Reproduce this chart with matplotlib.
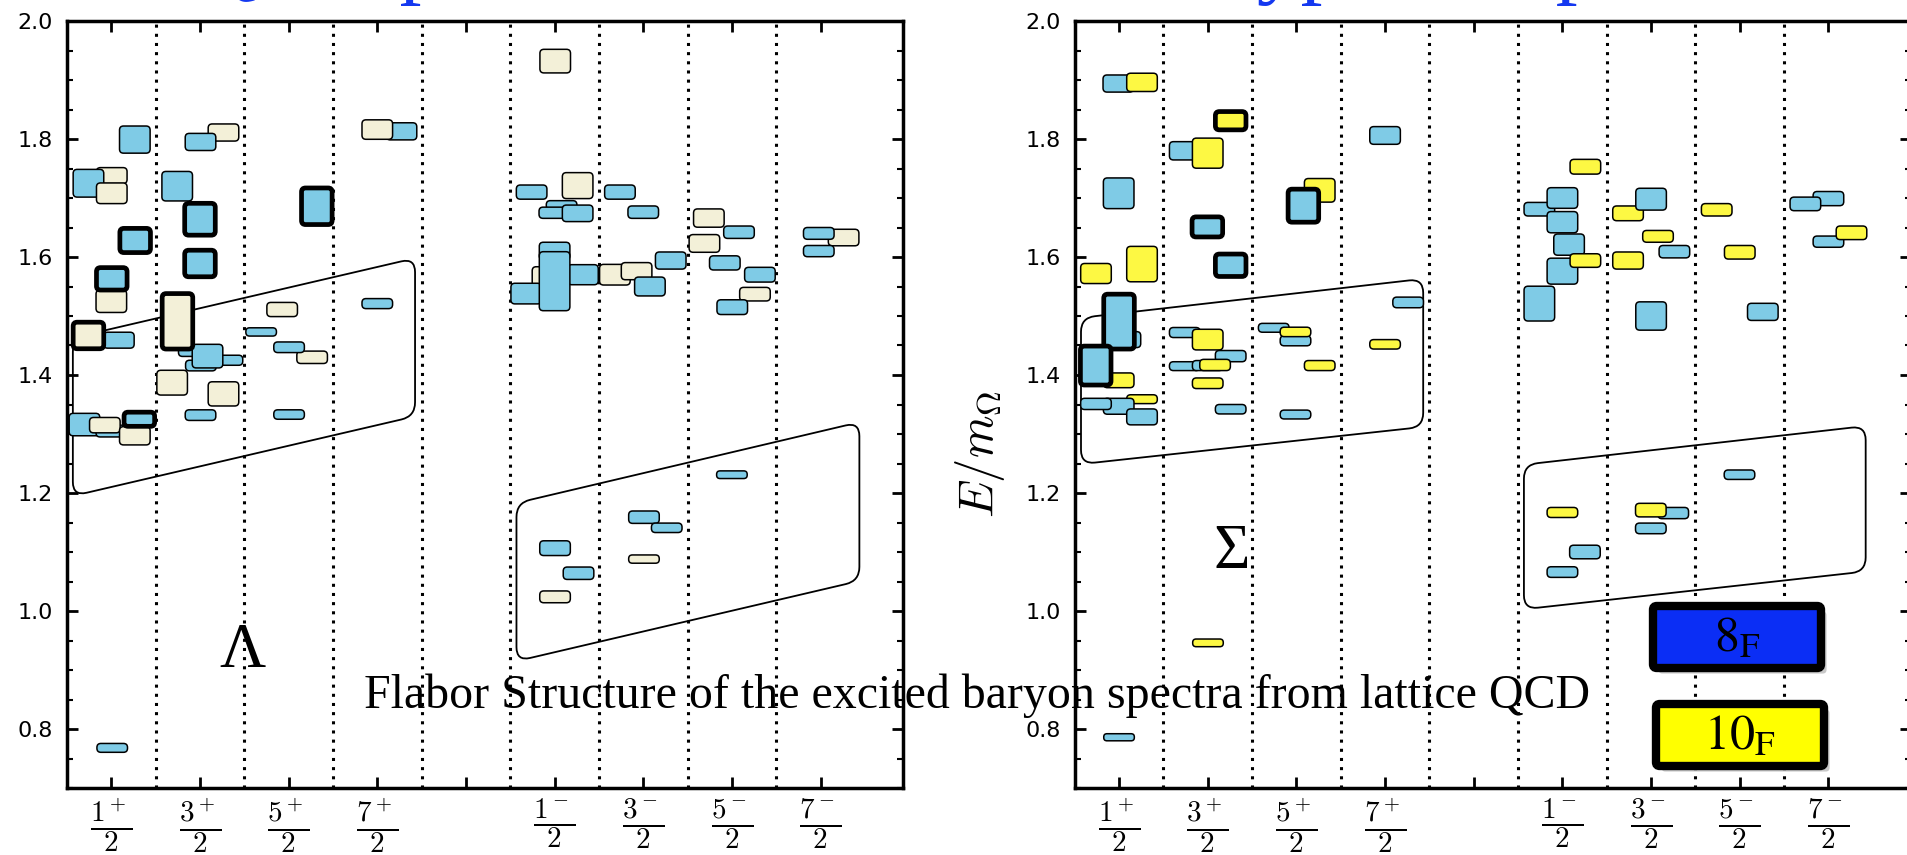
"""
Flavour structure of the excited Lambda / Sigma baryon spectra (lattice QCD).
Two level-diagram panels with rounded boxes per state.
"""

import numpy as np
import matplotlib
matplotlib.use("Agg")
import matplotlib.pyplot as plt
import matplotlib.patheffects as pe
from matplotlib.patches import FancyBboxPatch, PathPatch
from matplotlib.path import Path
from matplotlib.ticker import MultipleLocator

W, H = 1907, 855

plt.rcParams["font.family"] = ["DejaVu Sans"]
plt.rcParams["mathtext.fontset"] = "cm"

# ─── data ────────────────────────────────────────────────────────────────────
spin_ticks = [1, 2, 3, 4, 5, 6, 7, 8, 9]
spin_num = ["1^+", "3^+", "5^+", "7^+", None, "1^-", "3^-", "5^-", "7^-"]
sep_x = [1.5, 2.5, 3.5, 4.5, 5.5, 6.5, 7.5, 8.5]
y_ticks = [0.8, 1.0, 1.2, 1.4, 1.6, 1.8, 2.0]

# Lambda panel: centre x, centre E/m_Omega, box height, colour, bold outline
lam_x = [1.005, 0.742, 1.005, 1.265, 1.269, 1.0, 1.005, 1.085, 0.742, 0.697,
         1.0, 0.927, 1.265, 1.316, 1.01,
         2.265, 2.006, 1.743, 2.0, 2.0, 1.93, 2.31, 2.01, 2.085, 1.746,
         1.686, 2.265, 2.006,
         2.69, 2.927, 3.265, 3.005, 3.005, 3.318,
         4.273, 4.0, 4.0,
         6.007, 5.741, 6.26, 6.079, 5.997, 6.26, 5.92, 5.68, 6.32, 6.0, 6.0,
         6.005, 6.27, 6.005,
         6.737, 7.0, 6.68, 6.925, 7.075, 7.31, 7.008, 7.265, 7.008,
         7.74, 8.08, 7.69, 7.92, 8.316, 8.26, 8.004, 8.0,
         9.26, 8.98, 8.98]
lam_y = [1.738, 1.725, 1.708, 1.799, 1.628, 1.525, 1.563, 1.459, 1.467, 1.316,
         1.305, 1.315, 1.297, 1.325, 0.768,
         1.811, 1.795, 1.72, 1.664, 1.589, 1.44, 1.425, 1.416, 1.432, 1.491,
         1.387, 1.368, 1.332,
         1.473, 1.511, 1.43, 1.447, 1.333, 1.686,
         1.813, 1.816, 1.521,
         1.932, 1.710, 1.721, 1.688, 1.675, 1.674, 1.561, 1.538, 1.57, 1.61, 1.559,
         1.1065, 1.064, 1.024,
         1.71, 1.676, 1.57, 1.576, 1.55, 1.594, 1.159, 1.141, 1.088,
         1.666, 1.642, 1.623, 1.59, 1.57, 1.537, 1.515, 1.231,
         1.633, 1.64, 1.61]
lam_h = [0.027, 0.047, 0.035, 0.046, 0.041, 0.038, 0.038, 0.027, 0.045, 0.038,
         0.02, 0.026, 0.031, 0.024, 0.015,
         0.029, 0.029, 0.05, 0.054, 0.045, 0.017, 0.017, 0.018, 0.04, 0.094,
         0.042, 0.041, 0.018,
         0.014, 0.024, 0.021, 0.018, 0.016, 0.062,
         0.029, 0.033, 0.017,
         0.04, 0.024, 0.044, 0.015, 0.019, 0.028, 0.045, 0.035, 0.034, 0.03, 0.10,
         0.025, 0.021, 0.02,
         0.024, 0.021, 0.035, 0.029, 0.032, 0.029, 0.021, 0.016, 0.014,
         0.031, 0.021, 0.03, 0.024, 0.025, 0.023, 0.025, 0.013,
         0.028, 0.02, 0.019]
lam_c = list("wbwbbwbbwbbwwbb" "wbbbbbbbbwwwb" "bwwbbb" "bwb"
             "wbwbbbwbbbb" "bbw" "bbwwbbbbw" "wbwbbwbb" "wbb")
lam_bold = [0, 0, 0, 0, 1, 0, 1, 0, 1, 0, 0, 0, 0, 1, 0,
            0, 0, 0, 1, 1, 0, 0, 0, 0, 1, 0, 0, 0,
            0, 0, 0, 0, 0, 1,
            0, 0, 0,
            0, 0, 0, 0, 0, 0, 0, 0, 0, 0, 0,
            0, 0, 0,
            0, 0, 0, 0, 0, 0, 0, 0, 0,
            0, 0, 0, 0, 0, 0, 0, 0,
            0, 0, 0]

# Sigma panel
sig_x = [0.992, 1.259, 0.996, 0.74, 1.259, 1.072, 1.0, 0.996, 0.737, 1.259,
         0.996, 0.74, 1.259, 1.0,
         2.259, 1.741, 2.0, 1.996, 2.259, 1.741, 2.0, 2.259, 1.741, 2.0, 2.083,
         2.0, 2.259, 2.003,
         3.263, 3.079, 2.744, 2.99, 2.99, 3.263, 2.99,
         4.0, 4.26, 4.0,
         6.259, 5.74, 6.0, 6.0, 6.075, 6.0, 6.259, 5.74, 6.0, 6.0, 6.254,
         6.74, 7.0, 7.078, 7.263, 6.74, 7.0, 7.25, 6.997, 6.997,
         7.74, 8.0, 8.26, 7.997,
         9.0, 8.74, 9.0, 9.26]
sig_y = [1.894, 1.896, 1.708, 1.572, 1.588, 1.46, 1.4905, 1.391, 1.416, 1.359,
         1.347, 1.351, 1.329, 0.786,
         1.831, 1.78, 1.776, 1.651, 1.586, 1.472, 1.46, 1.432, 1.415, 1.416, 1.417,
         1.386, 1.342, 0.946,
         1.713, 1.687, 1.48, 1.458, 1.473, 1.416, 1.333,
         1.806, 1.523, 1.452,
         1.753, 1.681, 1.70, 1.659, 1.621, 1.576, 1.594, 1.521, 1.167, 1.066, 1.10,
         1.674, 1.698, 1.635, 1.609, 1.594, 1.5, 1.166, 1.171, 1.14,
         1.68, 1.608, 1.507, 1.231,
         1.699, 1.69, 1.626, 1.641]
sig_h = [0.029, 0.031, 0.052, 0.034, 0.06, 0.027, 0.093, 0.025, 0.066, 0.015,
         0.027, 0.019, 0.027, 0.012,
         0.031, 0.031, 0.051, 0.034, 0.038, 0.017, 0.035, 0.019, 0.015, 0.017, 0.019,
         0.018, 0.016, 0.013,
         0.04, 0.056, 0.015, 0.017, 0.016, 0.017, 0.015,
         0.03, 0.018, 0.016,
         0.025, 0.023, 0.035, 0.036, 0.036, 0.044, 0.023, 0.059, 0.017, 0.018, 0.023,
         0.025, 0.037, 0.02, 0.021, 0.029, 0.048, 0.019, 0.023, 0.018,
         0.021, 0.023, 0.029, 0.016,
         0.024, 0.023, 0.019, 0.023]
sig_c = list("bybyybbybybbbb" "ybybbbybbbyyby" "ybbbyyb" "bby"
             "ybbbbbybybb" "ybybybbyb" "yybb" "bbby")
sig_bold = [0, 0, 0, 0, 0, 0, 1, 0, 1, 0, 0, 0, 0, 0,
            1, 0, 0, 1, 1, 0, 0, 0, 0, 0, 0, 0, 0, 0,
            0, 1, 0, 0, 0, 0, 0,
            0, 0, 0,
            0, 0, 0, 0, 0, 0, 0, 0, 0, 0, 0,
            0, 0, 0, 0, 0, 0, 0, 0, 0,
            0, 0, 0, 0,
            0, 0, 0, 0]

# grouping outlines (corner points, counter-clockwise)
lam_box_x = [[0.566, 4.426, 4.426, 0.566], [5.57, 9.438, 9.438, 5.57]]
lam_box_y = [[1.195, 1.330, 1.598, 1.463], [0.915, 1.051, 1.320, 1.183]]
sig_box_x = [[0.571, 4.43, 4.43, 0.571], [5.566, 9.42, 9.42, 5.566]]
sig_box_y = [[1.249, 1.312, 1.563, 1.497], [1.003, 1.067, 1.3135, 1.248]]

legend_labels = [r"$8_{\mathrm{F}}$", r"$10_{\mathrm{F}}$"]
legend_colors = ["#0b2ef5", "#ffff00"]

COLORS = {"b": "#7fcbe6", "w": "#f3f0d8", "y": "#fdf843"}
BAR_W = 0.345


# ─── helpers ─────────────────────────────────────────────────────────────────

def style_axes(ax):
    ax.set_xlim(0.5, 9.93)
    ax.set_ylim(0.7, 2.0)
    ax.set_facecolor("none")
    ax.set_xticks(spin_ticks)
    ax.set_xticklabels([r"$\genfrac{}{}{2.6}{0}{%s}{2}$" % n if n else ""
                        for n in spin_num])
    ax.set_yticks(y_ticks)
    ax.set_yticklabels([f"{v:.1f}" for v in y_ticks])
    ax.yaxis.set_minor_locator(MultipleLocator(0.05))
    ax.tick_params(which="both", direction="in", top=True, right=True)
    ax.tick_params(which="major", length=8, width=2)
    ax.tick_params(which="minor", length=4, width=1.5)
    ax.tick_params(axis="x", labelsize=21, pad=6)
    ax.tick_params(axis="y", labelsize=16, pad=10)
    for s in ax.spines.values():
        s.set_linewidth(2.5)
    for x in sep_x:
        ax.axvline(x, color="black", lw=2.2, ls=(0, (1, 2)), zorder=1)


def draw_levels(ax, xs, ys, hs, cols, bold):
    (x0, y0), (x1, y1) = ax.transData.transform([(0, 0), (1, 1)])
    sx, sy = x1 - x0, y1 - y0
    asp = sx / sy
    for x, y, h, c, b in zip(xs, ys, hs, cols, bold):
        r = min(4.0 / sx, 0.45 * BAR_W, 0.45 * h / asp)
        ax.add_patch(FancyBboxPatch(
            (x - BAR_W / 2, y - h / 2), BAR_W, h,
            boxstyle=f"round,pad=0,rounding_size={r:.4f}",
            mutation_aspect=asp, fc=COLORS[c], ec="black",
            lw=3.4 if b else 1.1, zorder=3))


def rounded_outline(ax, xs, ys, r_px=14):
    pts = ax.transData.transform(np.column_stack([xs, ys]))
    n = len(pts)
    verts, codes = [], []
    for i in range(n):
        v, p, q = pts[i], pts[i - 1], pts[(i + 1) % n]
        a = v + (p - v) / np.hypot(*(p - v)) * r_px
        b = v + (q - v) / np.hypot(*(q - v)) * r_px
        verts += [a, v, b]
        codes += [Path.MOVETO if i == 0 else Path.LINETO, Path.CURVE3, Path.CURVE3]
    verts.append(verts[0])
    codes.append(Path.CLOSEPOLY)
    data = ax.transData.inverted().transform(np.array(verts))
    ax.add_patch(PathPatch(Path(data, codes), fill=False, ec="black",
                           lw=1.3, zorder=2))


# ─── figure ──────────────────────────────────────────────────────────────────
fig = plt.figure(figsize=(W / 100, H / 100), dpi=100)
ax1 = fig.add_axes([67 / W, (H - 788) / H, 836 / W, 767 / H])
ax2 = fig.add_axes([1074.7 / W, (H - 788) / H, 836.2 / W, 767 / H])

for ax, bx, by in ((ax1, lam_box_x, lam_box_y), (ax2, sig_box_x, sig_box_y)):
    style_axes(ax)
    for xs, ys in zip(bx, by):
        rounded_outline(ax, xs, ys)

draw_levels(ax1, lam_x, lam_y, lam_h, lam_c, lam_bold)
draw_levels(ax2, sig_x, sig_y, sig_h, sig_c, sig_bold)

ax1.text(2.475, 0.905, "Λ", fontsize=46, family="Liberation Serif",
         ha="center", va="baseline")
ax2.text(2.274, 1.073, "Σ", fontsize=45, family="Liberation Serif",
         ha="center", va="baseline")

ax2.set_ylabel(r"$E/m_\Omega$", fontsize=35)
ax2.yaxis.set_label_coords(-0.081, 0.435)

# slide caption sits behind the axes content
fig.text(977.5 / W, 1 - 708 / H,
         "Flabor Structure of the excited baryon spectra from lattice QCD",
         fontsize=34.5, family="Liberation Serif", ha="center", va="baseline",
         zorder=-1)

# cut-off slide headings (only descenders show)
fig.text(193 / W, 1 + 13 / H, "QCD predictions", color="#1438f0", fontsize=63,
         family="Liberation Serif", ha="left", va="baseline")
fig.text(1213 / W, 1 + 13 / H, "hyperon spectra", color="#1438f0", fontsize=63,
         family="Liberation Serif", ha="left", va="baseline")

# flavour legend boxes
for i, (lab, col) in enumerate(zip(legend_labels, legend_colors)):
    x0, y0 = 1653 + 3 * i, 606 + 98 * i
    box = FancyBboxPatch((x0 / W, 1 - (y0 + 62) / H), 168 / W, 62 / H,
                         boxstyle="round,pad=0,rounding_size=0.002",
                         mutation_aspect=W / H, transform=fig.transFigure,
                         fc=col, ec="black", lw=6, zorder=5)
    box.set_path_effects([pe.SimplePatchShadow(offset=(4, -4), shadow_rgbFace="#777777",
                                               alpha=0.4), pe.Normal()])
    fig.patches.append(box)
    fig.text((x0 + 84) / W, 1 - (y0 + 31) / H, lab, fontsize=36,
             math_fontfamily="stix", ha="center", va="center", zorder=6)

fig.savefig("out.png", dpi=100)
